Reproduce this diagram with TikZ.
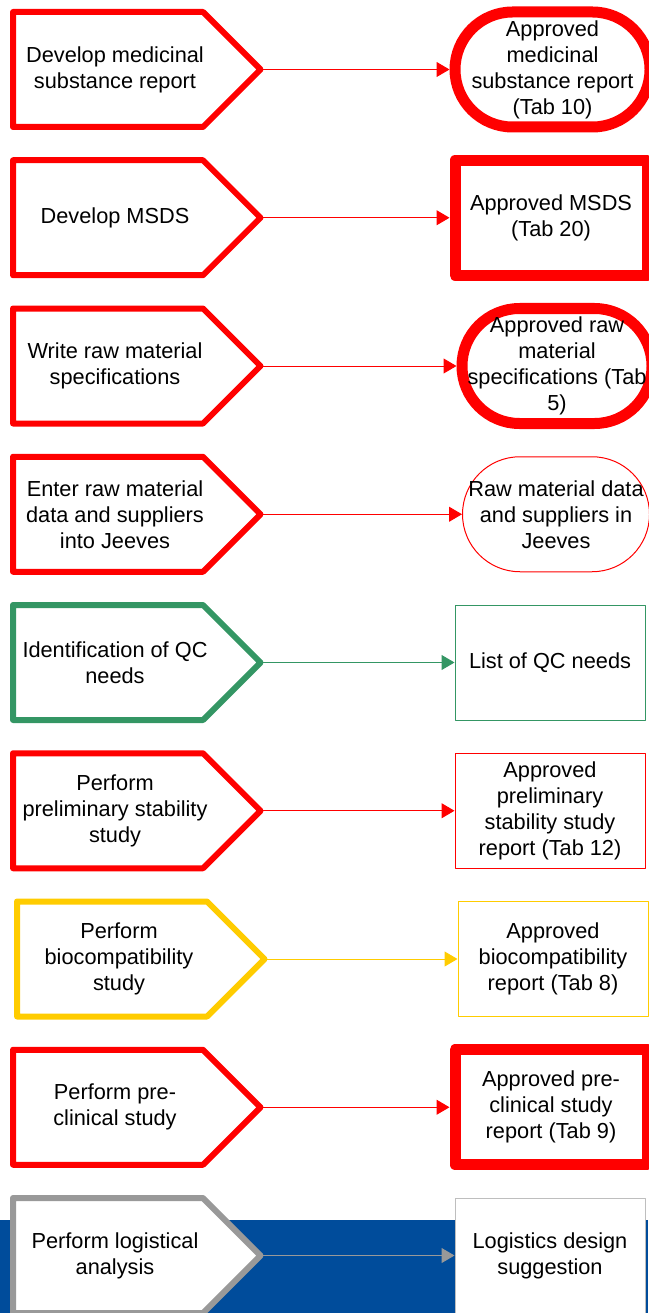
\documentclass[tikz,border=0pt]{standalone}
\usepackage{fontspec}
\setmainfont{Liberation Sans}
\usetikzlibrary{arrows.meta}
\definecolor{stepred}{RGB}{255,0,0}
\definecolor{stepgreen}{RGB}{52,150,100}
\definecolor{stepyellow}{RGB}{255,204,0}
\definecolor{stepgray}{RGB}{153,153,153}
\definecolor{boxgray}{RGB}{190,190,190}
\definecolor{bandblue}{RGB}{0,76,155}
\tikzset{
  pentline/.style={line width=6pt, line join=round, fill=white},
  steptext/.style={align=center, inner sep=0pt, font=\fontsize{21.75pt}{26pt}\selectfont},
  outbox/.style={align=center, inner sep=0pt, fill=white, minimum height=115pt,
    line join=round, font=\fontsize{21.75pt}{26pt}\selectfont},
  thickbox/.style={outbox, line width=11pt},
  thinbox/.style={outbox, line width=1pt},
  stadium/.style={rounded corners=57.5pt},
  flow/.style={line width=1pt, -{Triangle[length=13pt,width=15pt]}}
}
% #1 name, #2 left x, #3 top y, #4 colour, #5 text
\newcommand\stepshape[5]{%
  \draw[pentline, draw=#4] (#2,#3) -- ++(190,0) -- ++(57.5,57.5) coordinate (#1tip)
     -- ++(-57.5,57.5) -- ++(-190,0) -- cycle;
  \node[steptext] (#1) at ({#2+102},{#3+57.5}) {#5};
}
\begin{document}
\begin{tikzpicture}[x=1pt,y=-1pt]
\useasboundingbox (0,0) rectangle (648,1313);
\fill[bandblue] (0,1220) rectangle (648,1313);

% row 1
\stepshape{p1}{13}{12}{stepred}{Develop medicinal\\substance report}
\node[thickbox, stadium, draw=stepred, minimum width=195pt] (o1) at (552.5,69.5)
  {Approved\\medicinal\\substance report\\(Tab 10)};
\draw[flow, stepred] (p1tip) -- (o1.west);

% row 2
\stepshape{p2}{13}{160.25}{stepred}{Develop MSDS}
\node[thickbox, draw=stepred, minimum width=192pt] (o2) at (551,217.75)
  {Approved MSDS\\(Tab 20)};
\draw[flow, stepred] (p2tip) -- (o2.west);

% row 3
\stepshape{p3}{13}{308.5}{stepred}{Write raw material\\specifications}
\node[thickbox, stadium, draw=stepred, minimum width=190pt] (o3) at (557,366)
  {Approved raw\\material\\specifications (Tab\\5)};
\draw[flow, stepred] (p3tip) -- (o3.west);

% row 4
\stepshape{p4}{13}{456.75}{stepred}{Enter raw material\\data and suppliers\\into Jeeves}
\node[thinbox, stadium, draw=stepred, minimum width=187pt] (o4) at (556,514.25)
  {Raw material data\\and suppliers in\\Jeeves};
\draw[flow, stepred] (p4tip) -- (o4.west);

% row 5
\stepshape{p5}{13}{605}{stepgreen}{Identification of QC\\needs}
\node[thinbox, draw=stepgreen, minimum width=190pt] (o5) at (550,662.5)
  {List of QC needs};
\draw[flow, stepgreen] (p5tip) -- (o5.west);

% row 6
\stepshape{p6}{13}{753.25}{stepred}{Perform\\preliminary stability\\study}
\node[thinbox, draw=stepred, minimum width=190pt] (o6) at (550,810.75)
  {Approved\\preliminary\\stability study\\report (Tab 12)};
\draw[flow, stepred] (p6tip) -- (o6.west);

% row 7
\stepshape{p7}{17}{901.5}{stepyellow}{Perform\\biocompatibility\\study}
\node[thinbox, draw=stepyellow, minimum width=190pt] (o7) at (553,959)
  {Approved\\biocompatibility\\report (Tab 8)};
\draw[flow, stepyellow] (p7tip) -- (o7.west);

% row 8
\stepshape{p8}{13}{1049.75}{stepred}{Perform pre-\\clinical study}
\node[thickbox, draw=stepred, minimum width=192pt] (o8) at (551,1107.25)
  {Approved pre-\\clinical study\\report (Tab 9)};
\draw[flow, stepred] (p8tip) -- (o8.west);

% row 9
\stepshape{p9}{13}{1198}{stepgray}{Perform logistical\\analysis}
\node[thinbox, draw=boxgray, minimum width=190pt] (o9) at (550,1255.5)
  {Logistics design\\suggestion};
\draw[flow, stepgray] (p9tip) -- (o9.west);
\end{tikzpicture}
\end{document}
